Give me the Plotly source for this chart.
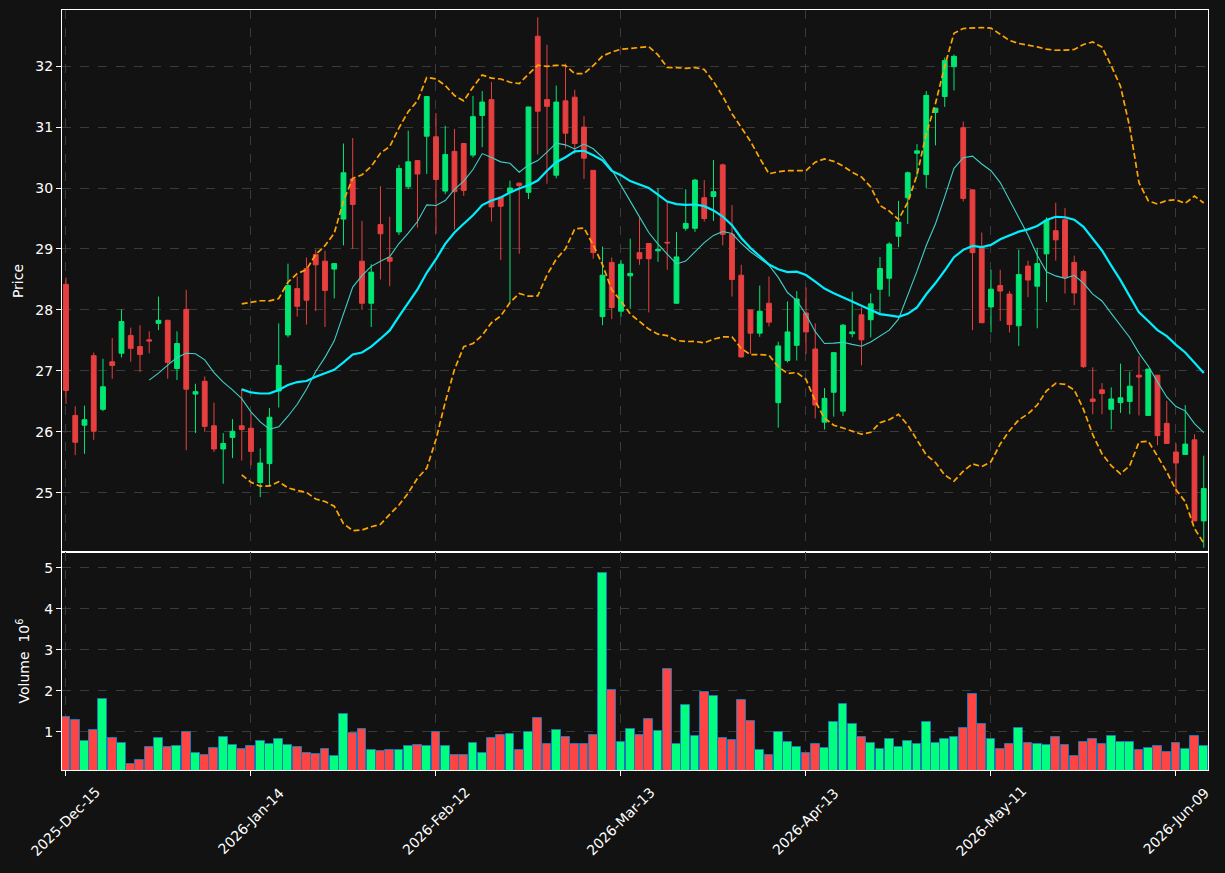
import numpy as np
import pandas as pd
import plotly.graph_objects as go

# ---------------- data ----------------
holidays = ["2025-12-25", "2026-01-01", "2026-01-19", "2026-02-16", "2026-04-03", "2026-05-25"]
dates = pd.bdate_range("2025-12-15", periods=124, freq="C", holidays=holidays)

open_ = [28.42, 26.27, 26.11, 27.25, 26.37, 27.15, 27.29, 27.58, 27.40, 27.51,
         27.78, 27.83, 27.04, 28.01, 26.62, 26.83, 26.10, 25.72, 25.91, 26.10,
         26.06, 25.17, 25.48, 26.67, 27.59, 28.35, 28.68, 28.91, 28.80, 28.67,
         29.49, 30.15, 28.80, 28.11, 29.40, 28.86, 29.28, 30.02, 30.45, 30.85,
         30.84, 29.95, 30.60, 30.73, 30.54, 31.19, 31.45, 29.85, 29.93, 30.08,
         29.93, 32.49, 31.45, 30.21, 31.43, 31.49, 31.00, 30.29, 27.89, 28.78,
         27.98, 28.56, 28.94, 29.09, 28.97, 29.11, 28.11, 29.34, 29.34, 29.84,
         29.86, 30.38, 29.24, 28.57, 28.00, 27.62, 28.11, 26.48, 27.17, 27.42,
         27.95, 27.36, 26.16, 26.65, 26.34, 27.61, 27.92, 27.84, 28.34, 28.52,
         29.21, 29.84, 30.57, 30.22, 31.24, 31.50, 31.99, 30.99, 29.97, 29.03,
         28.05, 28.40, 28.26, 27.74, 28.72, 28.39, 28.92, 29.30, 29.48, 28.78,
         28.63, 26.54, 26.69, 26.37, 26.48, 26.50, 26.93, 26.27, 26.93, 26.14,
         25.67, 25.63, 25.87, 24.54]
high = [28.53, 26.42, 26.43, 27.30, 27.20, 27.54, 28.01, 27.71, 27.75, 27.65,
        28.22, 27.84, 27.65, 28.33, 26.79, 26.91, 26.48, 25.98, 26.21, 26.71,
        26.31, 25.73, 26.39, 27.78, 28.76, 28.55, 28.86, 28.99, 28.97, 28.76,
        30.73, 30.82, 29.46, 28.75, 30.03, 29.53, 30.38, 30.94, 30.46, 31.50,
        31.23, 31.02, 30.97, 30.74, 31.51, 31.59, 31.74, 29.86, 30.12, 30.09,
        31.33, 32.80, 32.35, 31.68, 32.04, 31.61, 31.18, 30.29, 29.04, 28.86,
        28.82, 29.17, 29.51, 29.09, 30.00, 29.78, 29.28, 29.98, 30.15, 30.13,
        30.46, 30.40, 29.72, 28.74, 28.00, 28.40, 28.55, 27.48, 28.14, 28.31,
        28.37, 27.78, 26.72, 27.30, 27.77, 28.30, 28.04, 28.27, 28.87, 29.11,
        29.79, 30.27, 30.72, 31.59, 31.31, 32.14, 32.19, 31.09, 29.97, 29.27,
        28.66, 28.66, 28.31, 28.99, 28.81, 29.02, 29.52, 29.76, 29.67, 28.89,
        28.66, 27.06, 26.80, 26.73, 27.12, 26.99, 27.24, 27.03, 26.93, 26.51,
        25.81, 26.44, 25.96, 25.61]
low = [26.46, 25.62, 25.64, 25.87, 26.34, 26.87, 27.22, 27.15, 26.98, 27.29,
       27.67, 26.87, 26.85, 25.70, 25.98, 26.00, 25.67, 25.15, 25.57, 25.53,
       25.45, 24.93, 25.10, 26.40, 27.55, 27.89, 27.76, 27.98, 27.72, 28.19,
       29.06, 29.00, 28.00, 27.72, 28.50, 28.39, 29.23, 29.98, 29.35, 30.23,
       29.25, 29.90, 29.32, 29.87, 30.50, 30.67, 29.45, 28.82, 28.12, 28.92,
       29.82, 30.55, 30.07, 30.16, 30.65, 30.56, 30.15, 28.84, 27.75, 27.85,
       27.89, 28.02, 28.74, 27.96, 28.79, 28.66, 28.10, 29.30, 29.28, 29.45,
       29.46, 29.06, 28.22, 27.22, 27.28, 27.56, 27.73, 26.07, 27.14, 27.17,
       27.28, 26.22, 26.04, 26.25, 26.26, 27.55, 27.09, 27.55, 27.94, 28.22,
       29.03, 29.41, 30.18, 30.00, 30.70, 31.33, 31.60, 29.78, 27.67, 27.79,
       27.63, 27.82, 27.63, 27.41, 28.21, 27.70, 28.13, 28.81, 28.27, 28.08,
       27.05, 26.29, 26.29, 26.04, 26.31, 26.29, 26.27, 26.27, 25.78, 25.81,
       24.97, 25.63, 24.54, 24.10]
close = [26.68, 25.83, 26.20, 26.01, 26.74, 27.09, 27.81, 27.37, 27.27, 27.49,
         27.83, 27.14, 27.45, 26.70, 26.66, 26.09, 25.72, 25.81, 26.01, 26.04,
         25.68, 25.49, 26.24, 27.09, 28.40, 28.06, 28.16, 28.74, 28.32, 28.76,
         30.25, 29.73, 28.11, 28.62, 29.25, 28.80, 30.32, 30.43, 30.23, 31.50,
         30.14, 30.55, 29.94, 29.96, 31.17, 31.41, 29.69, 29.70, 30.00, 30.04,
         31.33, 31.26, 31.34, 31.41, 30.90, 30.73, 30.49, 28.94, 28.57, 28.04,
         28.75, 28.60, 28.84, 28.84, 28.99, 29.10, 28.87, 29.42, 30.13, 29.50,
         29.94, 29.24, 28.50, 27.23, 27.62, 27.98, 27.80, 27.41, 27.64, 28.18,
         27.64, 26.44, 26.55, 27.30, 27.75, 27.64, 27.51, 28.10, 28.68, 29.08,
         29.44, 30.25, 30.61, 31.52, 31.31, 32.09, 32.16, 29.83, 28.94, 27.79,
         28.34, 28.31, 27.76, 28.58, 28.49, 28.76, 29.47, 29.15, 28.54, 28.28,
         27.07, 26.50, 26.63, 26.54, 26.56, 26.75, 26.90, 27.03, 25.94, 25.81,
         25.49, 25.80, 24.54, 25.07]
volume_m = [1.37, 1.29, 0.78, 1.05, 1.81, 0.85, 0.73, 0.22, 0.32, 0.63,
            0.85, 0.63, 0.66, 1.00, 0.49, 0.44, 0.61, 0.88, 0.68, 0.59,
            0.66, 0.78, 0.71, 0.83, 0.68, 0.63, 0.49, 0.46, 0.59, 0.42,
            1.44, 0.98, 1.07, 0.56, 0.54, 0.56, 0.56, 0.66, 0.68, 0.66,
            1.00, 0.66, 0.44, 0.44, 0.73, 0.49, 0.85, 0.93, 0.95, 0.56,
            1.00, 1.34, 0.71, 1.05, 0.88, 0.71, 0.71, 0.93, 4.88, 2.02,
            0.76, 1.07, 0.93, 1.32, 1.02, 2.54, 0.71, 1.66, 0.90, 1.98,
            1.88, 0.85, 0.80, 1.78, 1.27, 0.56, 0.44, 1.00, 0.76, 0.63,
            0.49, 0.71, 0.61, 1.24, 1.68, 1.20, 0.88, 0.73, 0.59, 0.83,
            0.63, 0.78, 0.71, 1.24, 0.73, 0.83, 0.88, 1.10, 1.93, 1.20,
            0.83, 0.59, 0.71, 1.10, 0.73, 0.71, 0.68, 0.88, 0.68, 0.42,
            0.76, 0.83, 0.71, 0.90, 0.76, 0.76, 0.56, 0.61, 0.66, 0.51,
            0.73, 0.59, 0.90, 0.66]

tick_step = 20

# ---------------- derived ----------------
x = np.arange(len(dates))
c = pd.Series(close)
ma10 = c.rolling(10).mean()
ma20 = c.rolling(20).mean()
sd20 = c.rolling(20).std()
bb_up = ma20 + 2 * sd20
bb_lo = ma20 - 2 * sd20

tick_idx = list(range(0, len(dates), tick_step))
tick_txt = [dates[i].strftime("%Y-%b-%d") for i in tick_idx]

UP_C, DN_C = "#02e774", "#e73f3f"
VUP, VDN = "#00ff7f", "#ff4444"
BG = "#121212"
GRID = "#3a3a3a"
FONT = dict(family="DejaVu Sans", size=14, color="#ffffff")

vcolors = [VUP if cl >= op else VDN for op, cl in zip(open_, close)]

fig = go.Figure()
fig.add_trace(go.Candlestick(
    x=x, open=open_, high=high, low=low, close=close,
    increasing=dict(line=dict(color=UP_C, width=1), fillcolor=UP_C),
    decreasing=dict(line=dict(color=DN_C, width=1), fillcolor=DN_C),
    whiskerwidth=0, xaxis="x", yaxis="y", showlegend=False, hoverinfo="skip"))
fig.add_trace(go.Scatter(x=x, y=ma10, mode="lines", line=dict(color="#40d0c8", width=1.1),
                         xaxis="x", yaxis="y", showlegend=False, hoverinfo="skip"))
fig.add_trace(go.Scatter(x=x, y=ma20, mode="lines", line=dict(color="#00eeff", width=2.2),
                         xaxis="x", yaxis="y", showlegend=False, hoverinfo="skip"))
for band in (bb_up, bb_lo):
    fig.add_trace(go.Scatter(x=x, y=band, mode="lines",
                             line=dict(color="#ffa500", width=1.7, dash="6px,3px"),
                             xaxis="x", yaxis="y", showlegend=False, hoverinfo="skip"))
fig.add_trace(go.Bar(x=x, y=volume_m, marker=dict(color=vcolors, line=dict(color="#1f77b4", width=1)),
                     width=0.97, xaxis="x2", yaxis="y2", showlegend=False, hoverinfo="skip"))

split = (770 - 552) / 760
xr = [-0.43, 123.46]
axis_common = dict(showline=True, mirror=True, linecolor="#ffffff", linewidth=1,
                   showgrid=True, gridcolor=GRID, griddash="dash", gridwidth=1,
                   zeroline=False, tickcolor="#ffffff", ticklen=5,
                   tickfont=FONT)
# rotated date labels, centred under their ticks
label_y = (770 - 821) / 760
annotations = [dict(x=i, y=label_y, xref="x2", yref="paper", text=t, textangle=-45,
                    showarrow=False, xanchor="center", yanchor="middle", font=FONT)
               for i, t in zip(tick_idx, tick_txt)]

fig.update_layout(
    width=1225, height=873,
    margin=dict(l=62, r=17, t=10, b=103),
    paper_bgcolor=BG, plot_bgcolor=BG,
    font=FONT,
    boxgap=0.28, boxgroupgap=0.28,
    annotations=annotations,
    xaxis=dict(domain=[0, 1], anchor="y", range=xr, tickvals=tick_idx,
               showticklabels=False, ticks="", rangeslider=dict(visible=False), **axis_common),
    yaxis=dict(domain=[split, 1], anchor="x", range=[24.03, 32.92], tickvals=list(range(25, 33)),
               ticks="outside", title=dict(text="Price", font=FONT, standoff=8), **axis_common),
    xaxis2=dict(domain=[0, 1], anchor="y2", matches="x", range=xr, tickvals=tick_idx,
                showticklabels=False, ticks="outside", **axis_common),
    yaxis2=dict(domain=[0, split], anchor="x2", range=[0.075, 5.38], tickvals=[1, 2, 3, 4, 5],
                ticks="outside", title=dict(text="Volume  10<sup>6</sup>", font=FONT, standoff=11),
                **axis_common),
    bargap=0,
)

fig.write_html("out.html")
